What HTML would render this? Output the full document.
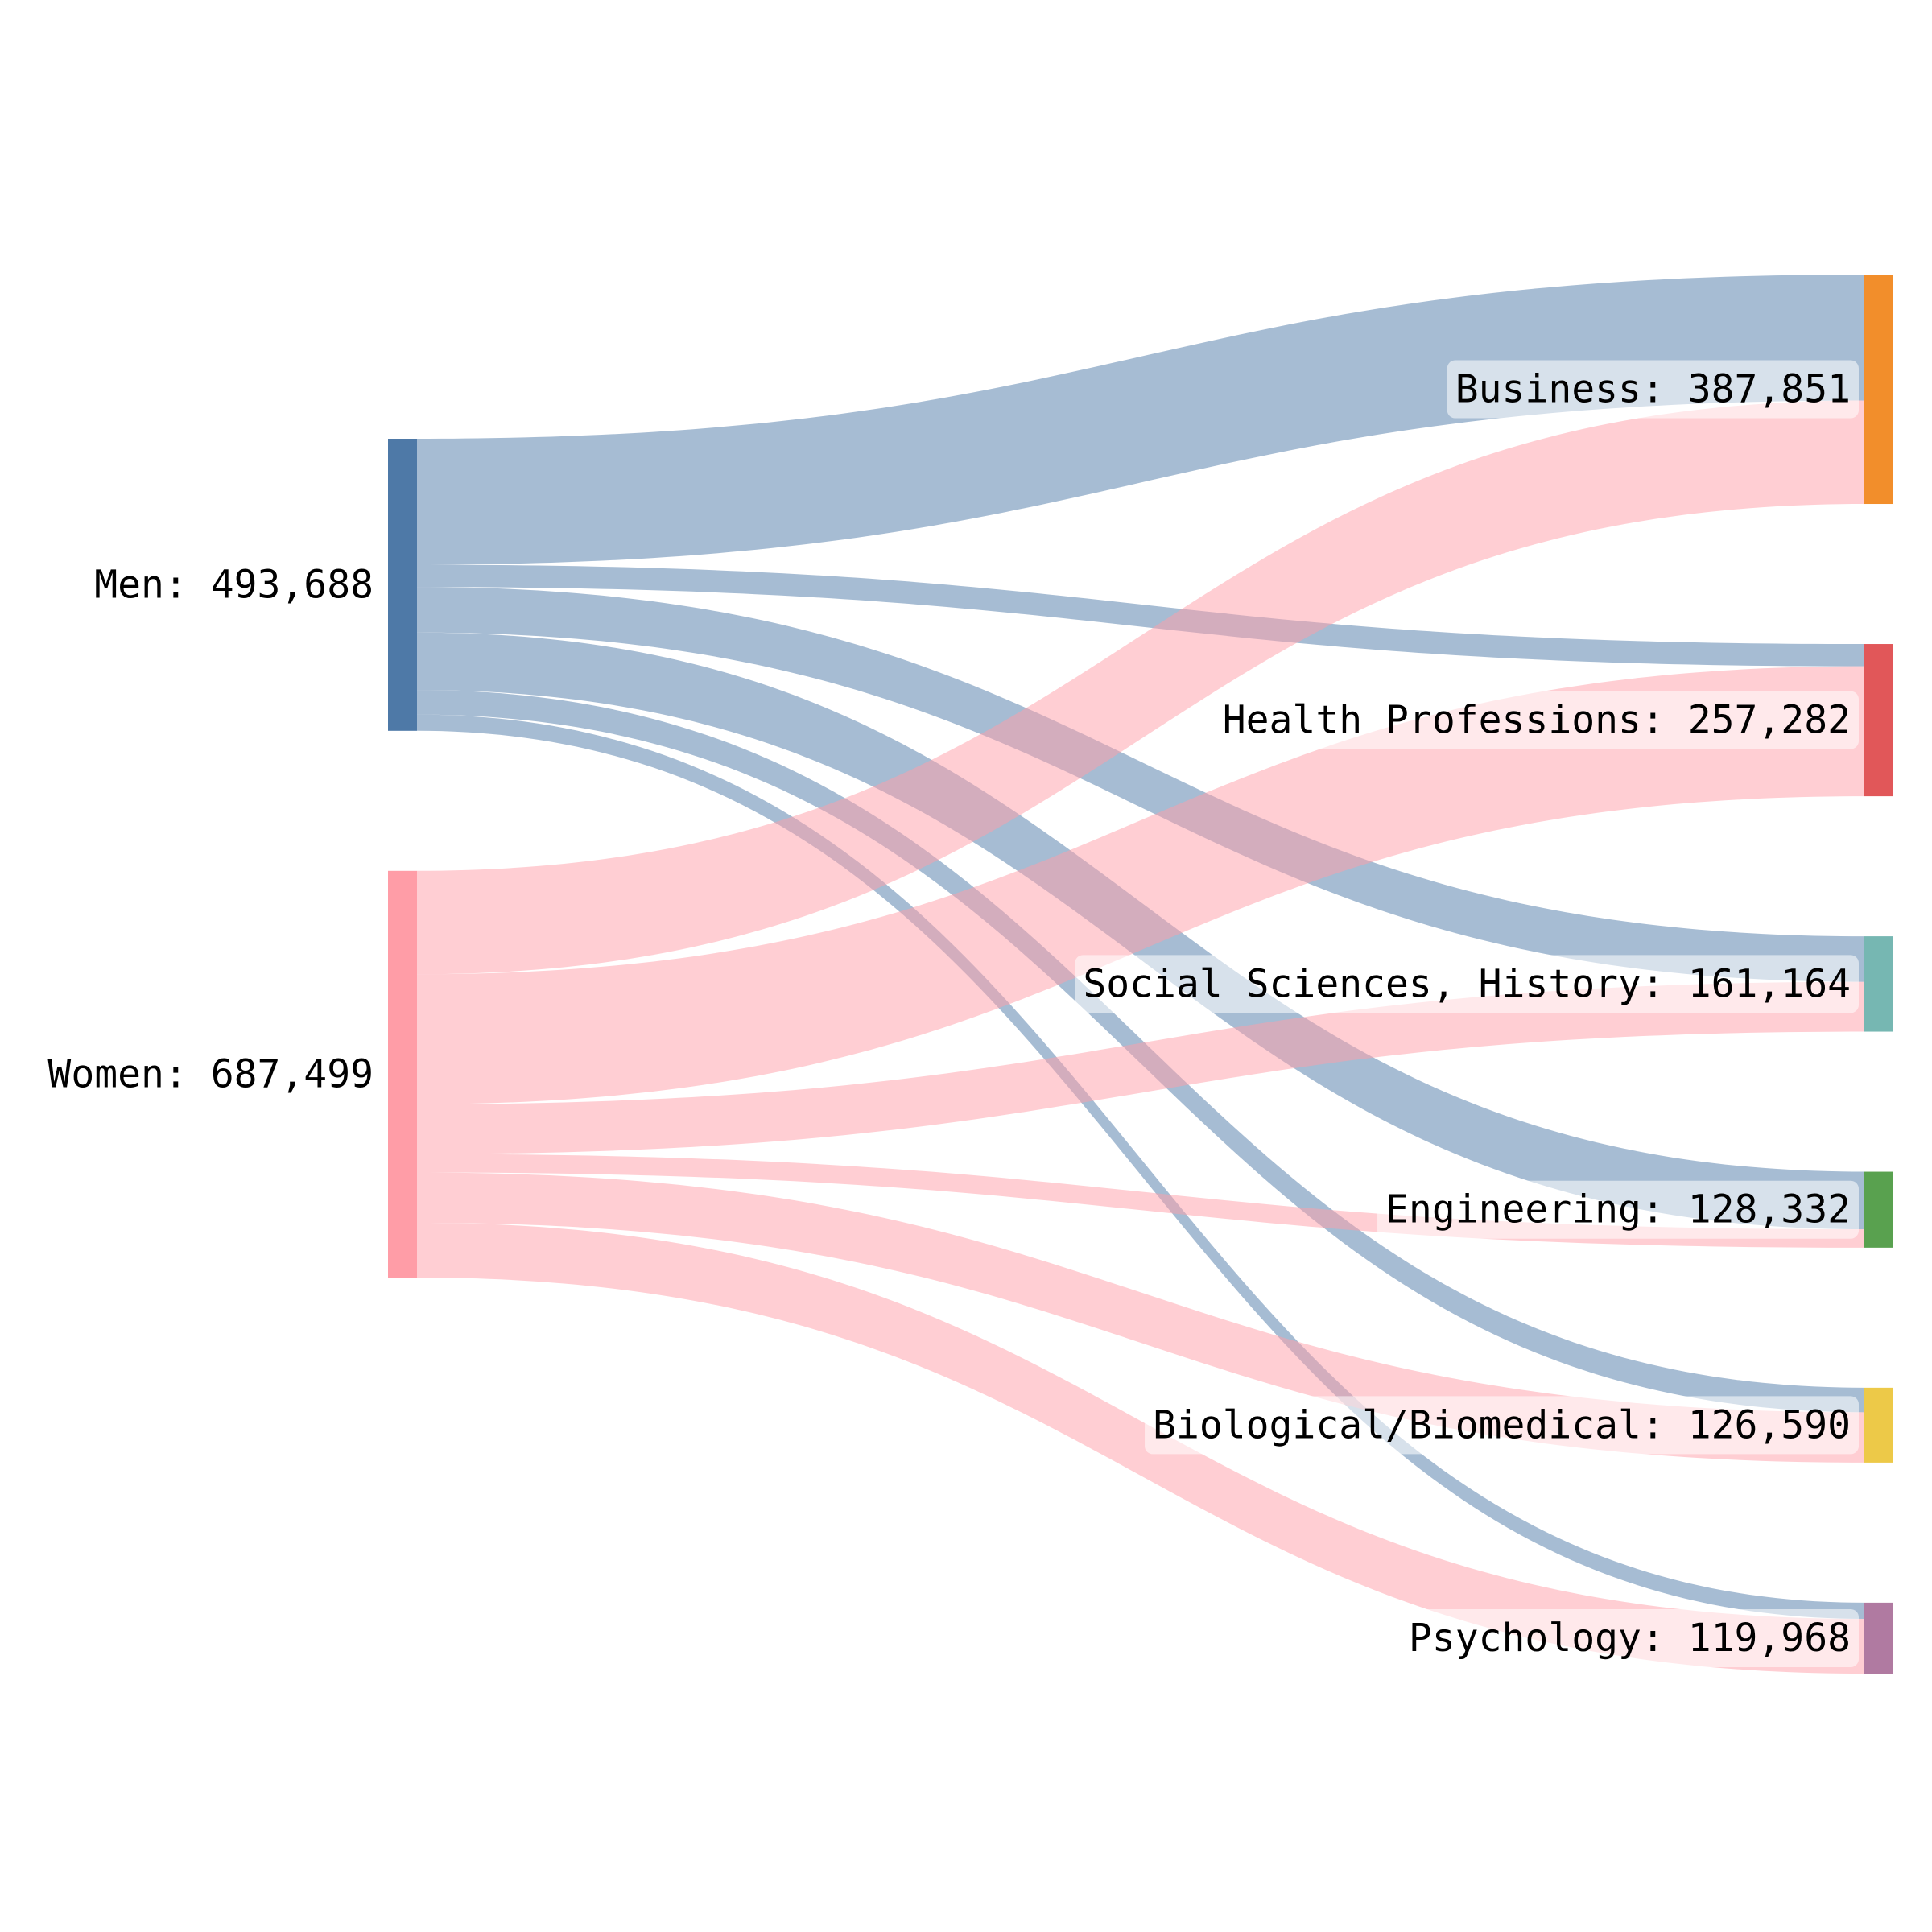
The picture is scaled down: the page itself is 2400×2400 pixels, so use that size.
<!DOCTYPE html>
<html><head><meta charset="utf-8"><style>
html,body{margin:0;padding:0;background:#fff;}
svg{display:block;}
text{font-family:"DejaVu Sans Mono","Liberation Mono",monospace;font-size:48px;}
</style></head><body>
<svg id="chart" width="2400" height="2400" viewBox="0 0 2400 2400">
<g id="links"></g>
<g id="nodes"></g>
<g id="labels"></g>
</svg>
<script>
const sources = ["Men", "Women"];
const sourceColors = ["#4e79a7", "#ff9da7"];
const targets = ["Business", "Health Professions", "Social Sciences, History", "Engineering", "Biological/Biomedical", "Psychology"];
const targetColors = ["#f28e2b", "#e15759", "#76b7b2", "#59a14f", "#edc948", "#b07aa1"];
const menValues = [213000, 37600, 77000, 97200, 41500, 27388];
const womenValues = [174851, 219682, 84164, 31132, 85090, 92580];

const NS = "http://www.w3.org/2000/svg";
const flows = [menValues, womenValues];
const K = 0.0007349, GAP = 174;
const LX0 = 482, LX1 = 518, RX0 = 2316, RX1 = 2351;
const LTOP = 545, RTOP = 341;
const fmt = v => v.toLocaleString("en-US");
function mk(tag, attrs, parent){ const e=document.createElementNS(NS,tag); for(const k in attrs) e.setAttribute(k,attrs[k]); parent.appendChild(e); return e; }

const srcTot = flows.map(a => a.reduce((s,v)=>s+v,0));
const tgtTot = targets.map((t,j) => flows.reduce((s,a)=>s+a[j],0));
const srcY = []; let y = LTOP;
srcTot.forEach(t => { srcY.push(y); y += t*K + GAP; });
const tgtY = []; y = RTOP;
tgtTot.forEach(t => { tgtY.push(y); y += t*K + GAP; });

const gL = document.getElementById("links"), gN = document.getElementById("nodes"), gT = document.getElementById("labels");
const tgtOff = tgtY.slice();
const linkColors = ["rgba(78,121,167,0.5)", "rgba(255,157,167,0.5)"];
flows.forEach((arr, i) => {
  let sy = srcY[i];
  arr.forEach((v, j) => {
    const h = v*K, ty = tgtOff[j]; tgtOff[j] += h;
    const mx = (LX1 + RX0)/2;
    const d = `M${LX1},${sy} C${mx},${sy} ${mx},${ty} ${RX0},${ty} L${RX0},${ty+h} C${mx},${ty+h} ${mx},${sy+h} ${LX1},${sy+h} Z`;
    const p = mk("path", {d, fill: linkColors[i]}, gL);
    
    
    sy += h;
  });
});
sources.forEach((s, i) => {
  const r = mk("rect", {x: LX0, y: srcY[i], width: LX1-LX0, height: srcTot[i]*K, fill: sourceColors[i]}, gN);
  
  
  const t = mk("text", {x: 464, y: srcY[i] + srcTot[i]*K/2, "text-anchor": "end", "dominant-baseline": "central", fill: "#000"}, gT);
  t.textContent = s + ": " + fmt(srcTot[i]);
  
  
});
targets.forEach((s, j) => {
  const r = mk("rect", {x: RX0, y: tgtY[j], width: RX1-RX0, height: tgtTot[j]*K, fill: targetColors[j]}, gN);
  
  
  const cy = tgtY[j] + tgtTot[j]*K/2;
  const bg = mk("rect", {rx: 10, ry: 10, fill: "rgba(255,255,255,0.55)"}, gT);
  
  
  const t = mk("text", {x: 2299, y: cy, "text-anchor": "end", "dominant-baseline": "central", fill: "#000"}, gT);
  t.textContent = s + ": " + fmt(tgtTot[j]);
  
  
  const b = t.getBBox();
  bg.setAttribute("x", b.x - 10); bg.setAttribute("y", cy - 36);
  bg.setAttribute("width", b.width + 20); bg.setAttribute("height", 72);
});
</script>
</body></html>
